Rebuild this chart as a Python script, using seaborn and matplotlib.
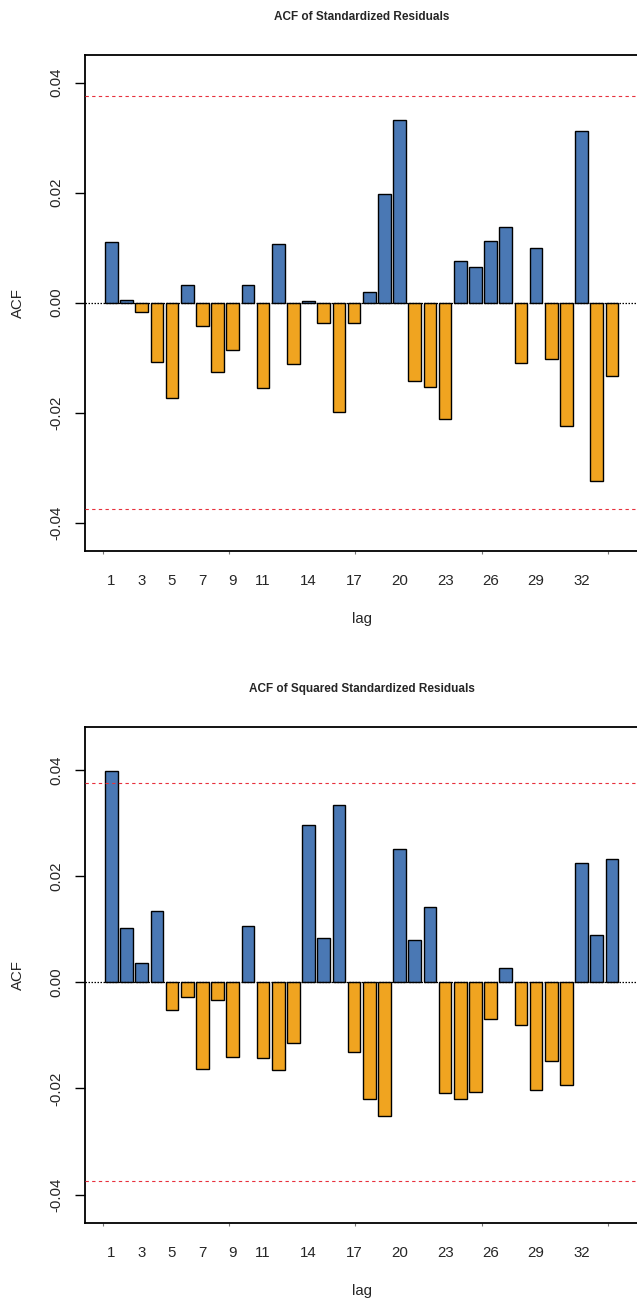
import numpy as np
import pandas as pd
import matplotlib
matplotlib.use("Agg")
import matplotlib.pyplot as plt
import seaborn as sns

# ---------------- data ----------------
lags = list(range(1, 35))
acf_std = [0.0110, 0.0004, -0.0017, -0.0108, -0.0173, 0.0032, -0.0042, -0.0126, -0.0087, 0.0032,
           -0.0155, 0.0106, -0.0112, 0.0002, -0.0038, -0.0199, -0.0038, 0.0019, 0.0198, 0.0332,
           -0.0143, -0.0153, -0.0212, 0.0076, 0.0064, 0.0112, 0.0138, -0.0110, 0.0099, -0.0102,
           -0.0225, 0.0312, -0.0324, -0.0133]
acf_sq = [0.0399, 0.0103, 0.0036, 0.0134, -0.0052, -0.0028, -0.0164, -0.0033, -0.0141, 0.0107,
          -0.0143, -0.0166, -0.0115, 0.0297, 0.0084, 0.0335, -0.0131, -0.0220, -0.0251, 0.0251,
          0.0080, 0.0142, -0.0209, -0.0219, -0.0206, -0.0069, 0.0027, -0.0080, -0.0202, -0.0148,
          -0.0194, 0.0225, 0.0089, 0.0233]
conf_bound = 0.0375
label_lags = [1, 3, 5, 7, 9, 11, 14, 17, 20, 23, 26, 29, 32]
ytick_vals = [-0.04, -0.02, 0.00, 0.02, 0.04]
ytick_labels = ["-0.04", "-0.02", "0.00", "0.02", "0.04"]
titles = ["ACF of Standardized Residuals", "ACF of Squared Standardized Residuals"]

BLUE = "#4a78b4"
ORANGE = "#f0a420"
RED = "#e8303c"

sns.set_theme(style="white")
plt.rcParams["font.family"] = ["Liberation Sans", "DejaVu Sans"]

W, H = 637, 1299
fig = plt.figure(figsize=(W / 100, H / 100), dpi=100)

# axes boxes in pixels: (top, bottom)
ax_left, ax_right = 84.5, 638.8
boxes = [(55.0, 550.7), (726.7, 1222.7)]
ylims = [(-0.0451, 0.0450), (-0.0453, 0.0482)]

# barplot units: bar i occupies [0.2+1.2*(i-1), 1.2+1.2*(i-1)], xlim extended 4%
unit_lo, unit_hi = 0.2 - 1.624, 40.8 + 1.624


def unit_to_cat(u):
    return (u - 0.7) / 1.2


for vals, (top, bot), ylim, title in zip([acf_std, acf_sq], boxes, ylims, titles):
    hgt = bot - top
    ax = fig.add_axes([ax_left / W, 1 - bot / H, (ax_right - ax_left) / W, hgt / H])
    df = pd.DataFrame({"lag": lags, "acf": vals})
    df["sign"] = np.where(df["acf"] >= 0, "pos", "neg")
    sns.barplot(data=df, x="lag", y="acf", hue="sign", order=lags,
                palette={"pos": BLUE, "neg": ORANGE}, dodge=False, saturation=1,
                width=1 / 1.2, edgecolor="black", linewidth=1.0, legend=False, ax=ax)

    ax.axhline(0, color="black", ls=(0, (1.2, 1.2)), lw=0.9, zorder=5)
    ax.axhline(conf_bound, color=RED, ls=(0, (3, 3)), lw=0.8, zorder=5)
    ax.axhline(-conf_bound, color=RED, ls=(0, (3, 3)), lw=0.8, zorder=5)

    ax.set_xlim(unit_to_cat(unit_lo), unit_to_cat(unit_hi))
    ax.set_ylim(*ylim)

    ax.set_xticks([l - 1 for l in label_lags])
    ax.set_xticklabels([str(l) for l in label_lags], fontsize=10.8)
    ax.set_xticks([unit_to_cat(u) for u in [0, 10, 20, 30, 40]], minor=True)
    ax.tick_params(axis="x", which="major", length=0, pad=17)
    ax.tick_params(axis="x", which="minor", length=2.0, width=0.8, color="#777777",
                   direction="out", bottom=True)

    ax.set_yticks(ytick_vals)
    ax.set_yticklabels(ytick_labels, rotation=90, va="center", fontsize=10.8)
    ax.tick_params(axis="y", which="major", length=7.2, width=1.0, color="black",
                   direction="out", left=True, pad=8)

    ax.set_xlabel("lag", fontsize=10.8)
    ax.xaxis.set_label_coords(0.5, -61.3 / hgt)
    ax.set_ylabel("ACF", fontsize=10.8)
    ax.yaxis.set_label_coords((25 - ax_left) / (ax_right - ax_left), 0.5)

    ax.set_title(title, fontsize=8.5, fontweight="bold",
                 y=1 + 38 / hgt, va="center", pad=0)

    for sp in ax.spines.values():
        sp.set_visible(True)
        sp.set_color("black")
        sp.set_linewidth(1.3)

fig.savefig("out.png", dpi=100, facecolor="white")
